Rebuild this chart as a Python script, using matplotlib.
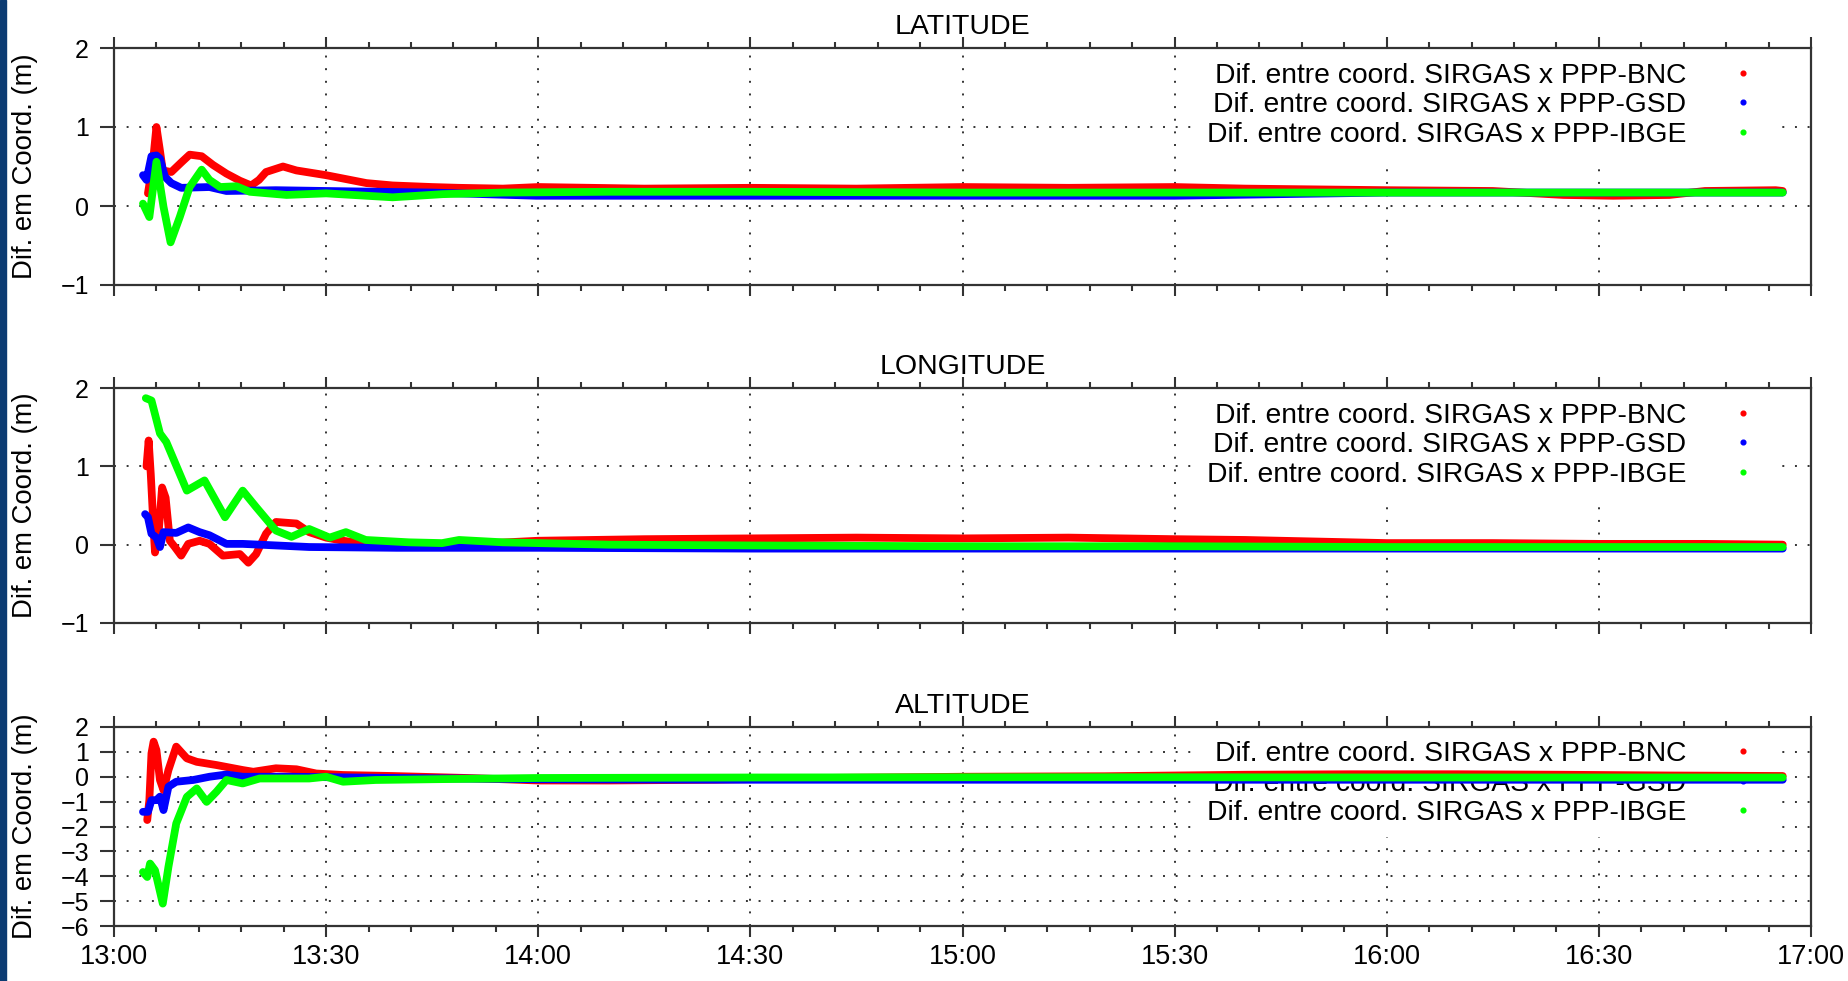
import matplotlib
matplotlib.use("Agg")
import matplotlib.pyplot as plt
from matplotlib.patches import Rectangle
from matplotlib.ticker import FixedLocator, MultipleLocator

plt.rcParams['font.family'] = ['Liberation Sans', 'DejaVu Sans']

# ---------------- DATA (minutes after 13:00, metres) ----------------
XTICK_MIN = [0, 30, 60, 90, 120, 150, 180, 210, 240]
XTICK_LABELS = ["13:00", "13:30", "14:00", "14:30", "15:00", "15:30", "16:00", "16:30", "17:00"]

SERIES_NAMES = ["Dif. entre coord. SIRGAS x PPP-BNC",
                "Dif. entre coord. SIRGAS x PPP-GSD",
                "Dif. entre coord. SIRGAS x PPP-IBGE"]
PANEL_TITLES = ["LATITUDE", "LONGITUDE", "ALTITUDE"]

# LATITUDE
lat_bnc_t = [4.8, 5.5, 6.0, 6.5, 6.9, 8.1, 9.5, 10.7, 12.4, 14.0, 15.9, 17.8, 19.4, 20.5, 21.5,
             23.9, 25.8, 30, 35.7, 39.4, 45, 48.8, 55, 60, 75, 90, 105, 120, 135, 150, 160,
             170, 180, 195, 205, 212, 220, 225, 235, 236]
lat_bnc_v = [0.16, 0.55, 1.0, 0.7, 0.45, 0.43, 0.55, 0.65, 0.63, 0.52, 0.41, 0.32, 0.26, 0.33, 0.43,
             0.50, 0.45, 0.39, 0.29, 0.26, 0.24, 0.23, 0.22, 0.24, 0.22, 0.23, 0.22, 0.24, 0.23, 0.24, 0.22,
             0.21, 0.20, 0.19, 0.14, 0.13, 0.14, 0.19, 0.20, 0.19]
lat_gsd_t = [4.1, 4.6, 5.3, 6.0, 6.5, 7.2, 8.1, 9.5, 13.5, 15.9, 22.9, 30, 45, 59.7, 70.9,
             80, 97, 120, 150, 165, 180, 210, 236]
lat_gsd_v = [0.39, 0.33, 0.63, 0.64, 0.60, 0.37, 0.29, 0.23, 0.24, 0.19, 0.20, 0.19, 0.17, 0.13, 0.13,
             0.13, 0.13, 0.13, 0.13, 0.15, 0.17, 0.17, 0.17]
lat_ibge_t = [4.1, 5.0, 6.0, 7.0, 8.0, 9.3, 10.7, 12.4, 13.5, 15.0, 17.3, 19.2, 24.4, 30, 39.4,
              46.5, 55, 70, 90, 120, 150, 180, 210, 236]
lat_ibge_v = [0.03, -0.14, 0.56, -0.01, -0.46, -0.14, 0.24, 0.46, 0.33, 0.24, 0.25, 0.18, 0.14, 0.16, 0.11,
              0.15, 0.17, 0.18, 0.18, 0.17, 0.17, 0.17, 0.17, 0.17]

# LONGITUDE
lon_bnc_t = [4.6, 4.9, 5.2, 5.6, 5.8, 6.3, 6.8, 7.3, 7.9, 8.6, 9.5, 10.5, 12.1, 13.5, 15.4, 17.8,
             19.0, 20.1, 21.5, 22.9, 25.8, 27.6, 30, 32.4, 35.6, 41.7, 48.8, 60, 75, 90, 105, 120,
             135, 150, 160, 170, 180, 195, 210, 225, 236]
lon_bnc_v = [1.0, 1.33, 0.9, 0.2, -0.1, 0.14, 0.73, 0.6, 0.05, -0.03, -0.14, 0.01, 0.05, 0.01, -0.14, -0.12,
             -0.23, -0.12, 0.14, 0.29, 0.27, 0.16, 0.09, 0.05, 0.01, -0.01, 0.0, 0.05, 0.07, 0.08, 0.09, 0.08,
             0.09, 0.07, 0.06, 0.04, 0.02, 0.02, 0.01, 0.01, 0.0]
lon_gsd_t = [4.4, 4.8, 5.3, 6.0, 6.5, 7.0, 8.8, 10.5, 12.1, 13.5, 15.9, 18.2, 20.6, 27.6, 40, 60,
             90, 120, 150, 180, 210, 236]
lon_gsd_v = [0.39, 0.35, 0.14, 0.09, -0.03, 0.16, 0.15, 0.22, 0.16, 0.12, 0.01, 0.01, 0.0, -0.03, -0.04, -0.04,
             -0.05, -0.05, -0.05, -0.05, -0.05, -0.05]
lon_ibge_t = [4.5, 5.3, 6.5, 7.4, 10.3, 12.8, 15.7, 18.2, 20.1, 22.9, 25.1, 27.6, 30.5, 32.8, 35.6, 41.7,
              46.4, 48.8, 55, 70, 90, 120, 150, 180, 210, 236]
lon_ibge_v = [1.87, 1.84, 1.42, 1.31, 0.69, 0.82, 0.35, 0.69, 0.48, 0.18, 0.10, 0.20, 0.09, 0.16, 0.06, 0.03,
              0.02, 0.06, 0.03, 0.0, -0.01, -0.02, -0.02, -0.03, -0.03, -0.03]

# ALTITUDE
alt_bnc_t = [4.7, 5.0, 5.3, 5.6, 6.0, 6.5, 7.0, 7.7, 8.8, 10.3, 11.7, 14.5, 18.2, 19.7, 22.9, 25.8,
             28.6, 32.4, 39.4, 50, 60, 70, 85, 100, 120, 140, 160, 175, 190, 205, 220, 236]
alt_bnc_v = [-1.74, -0.94, 0.94, 1.41, 1.07, -0.13, -0.54, 0.27, 1.21, 0.74, 0.6, 0.47, 0.27, 0.2, 0.34, 0.30,
             0.13, 0.07, 0.03, -0.05, -0.15, -0.15, -0.12, -0.05, 0.0, 0.02, 0.08, 0.1, 0.1, 0.08, 0.05, 0.03]
alt_gsd_t = [4.1, 4.8, 5.3, 6.0, 6.5, 7.0, 7.7, 8.8, 11.2, 13.5, 15.9, 18.2, 25, 40, 60, 90,
             120, 150, 180, 210, 236]
alt_gsd_v = [-1.41, -1.41, -0.94, -0.94, -0.8, -1.34, -0.4, -0.2, -0.13, 0.0, 0.09, 0.0, 0.0, -0.05, -0.1, -0.12,
             -0.12, -0.12, -0.12, -0.12, -0.12]
alt_ibge_t = [4.1, 4.7, 5.1, 5.8, 6.9, 7.7, 8.8, 10.3, 11.7, 13.1, 14.5, 15.9, 18.2, 20.6, 27.6, 30,
              32.4, 37, 45, 60, 90, 120, 150, 180, 210, 236]
alt_ibge_v = [-3.83, -4.03, -3.49, -3.76, -5.10, -3.62, -1.88, -0.81, -0.47, -1.01, -0.6, -0.13, -0.27, -0.07,
              -0.07, 0.0, -0.2, -0.13, -0.1, -0.05, -0.03, -0.02, -0.02, -0.03, -0.03, -0.03]

PANELS = [
    ((lat_bnc_t, lat_bnc_v), (lat_gsd_t, lat_gsd_v), (lat_ibge_t, lat_ibge_v)),
    ((lon_bnc_t, lon_bnc_v), (lon_gsd_t, lon_gsd_v), (lon_ibge_t, lon_ibge_v)),
    ((alt_bnc_t, alt_bnc_v), (alt_gsd_t, alt_gsd_v), (alt_ibge_t, alt_ibge_v)),
]
YLIMS = [(-1, 2), (-1, 2), (-6, 2)]
COLORS = ["#ff0000", "#0000ff", "#00ff00"]
# --------------------------------------------------------------------

W, H = 1849, 981
fig = plt.figure(figsize=(W / 100, H / 100), dpi=100)
fig.patches.append(Rectangle((0, 0), 6 / W, 1, transform=fig.transFigure,
                             color="#0c3b72", zorder=0))

# axes boxes in pixels: (top, bottom)
boxes = [(48, 285), (388, 623), (727, 926)]
left_px, right_px = 114, 1811

for i, (top, bot) in enumerate(boxes):
    ax = fig.add_axes([left_px / W, (H - bot) / H, (right_px - left_px) / W, (bot - top) / H])
    ax.set_axisbelow(True)
    for (t, v), c, name in zip(PANELS[i], COLORS, SERIES_NAMES):
        ax.plot(t, v, color=c, lw=5.6, solid_joinstyle="round", solid_capstyle="round",
                zorder=2, label=name)

    ax.set_xlim(0, 240)
    ax.set_ylim(*YLIMS[i])
    ax.xaxis.set_major_locator(FixedLocator(XTICK_MIN))
    ax.xaxis.set_minor_locator(MultipleLocator(6))
    ax.yaxis.set_major_locator(MultipleLocator(1))
    if i == 2:
        ax.set_xticklabels(XTICK_LABELS)
    else:
        ax.set_xticklabels([])

    ax.tick_params(axis="x", which="major", direction="out", length=8, width=1.5,
                   top=True, labelsize=19.5, pad=5, color="#333333")
    ax.tick_params(axis="x", which="minor", direction="out", length=4.5, width=1.5,
                   top=True, color="#333333")
    ax.tick_params(axis="y", which="major", direction="out", length=10, width=1.5,
                   labelsize=18, pad=8, color="#333333")
    for s in ax.spines.values():
        s.set_linewidth(1.6)
        s.set_color("#333333")

    ax.grid(True, which="major", color="#333333", lw=1.4, linestyle=(0, (1, 5.5)))

    ax.annotate(PANEL_TITLES[i], xy=(0.5, 1), xycoords="axes fraction",
                xytext=(0, 10), textcoords="offset points",
                ha="center", va="baseline", fontsize=20.5)

    leg = ax.legend(handles=[plt.Line2D([], [], ls="none", marker="o", ms=3.4, color=c)
                             for c in COLORS],
                    labels=SERIES_NAMES, loc="upper right", bbox_to_anchor=(0.983, 0.985),
                    borderaxespad=0, markerfirst=False, alignment="right",
                    fontsize=20.3, handlelength=2, handletextpad=1.0, labelspacing=0.12,
                    borderpad=0.4, frameon=True, fancybox=False, framealpha=1,
                    edgecolor="none", facecolor="white")
    leg.set_zorder(1.5)

    fig.text(25 / W, 1 - ((top + bot) / 2) / H, "Dif. em Coord. (m)", rotation=90,
             ha="center", va="center", fontsize=19.8)

fig.savefig("out.png", dpi=100, facecolor="white")
